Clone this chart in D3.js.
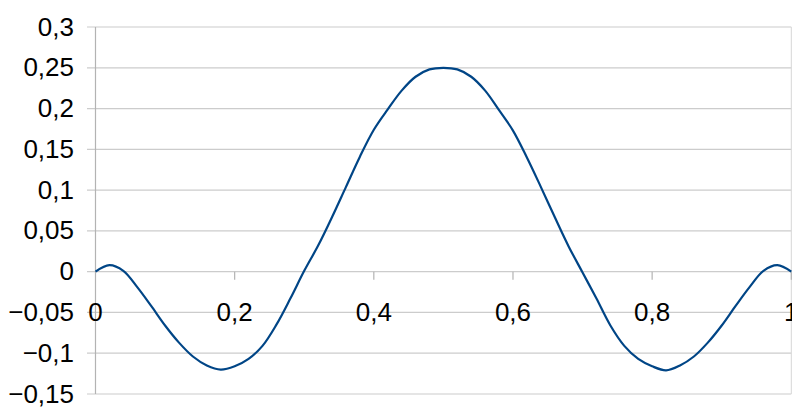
<!DOCTYPE html>
<html>
<head>
<meta charset="utf-8">
<script src="https://cdn.jsdelivr.net/npm/d3@7"></script>
<style>
  html, body { margin: 0; padding: 0; background: #fff; }
  svg { display: block; }
  text { font-family: "Liberation Sans", Arial, sans-serif; font-size: 26px; fill: #000; }
</style>
</head>
<body>
<svg id="chart" width="792" height="407"></svg>
<script>
const xValues = [0, 0.02, 0.04, 0.06, 0.08, 0.10, 0.12, 0.14, 0.16, 0.18, 0.20, 0.22, 0.24, 0.26, 0.28, 0.30, 0.32, 0.34, 0.36, 0.38, 0.40, 0.42, 0.44, 0.46, 0.48, 0.50,
                 0.52, 0.54, 0.56, 0.58, 0.60, 0.62, 0.64, 0.66, 0.68, 0.70, 0.72, 0.74, 0.76, 0.78, 0.80, 0.82, 0.84, 0.86, 0.88, 0.90, 0.92, 0.94, 0.96, 0.98, 1.00];
const yValues = [0, 0.008, 0.001, -0.019, -0.042, -0.066, -0.087, -0.104, -0.115, -0.120, -0.116, -0.107, -0.091, -0.065, -0.033, 0.001, 0.032, 0.067, 0.104, 0.141, 0.174, 0.199, 0.222, 0.239, 0.248, 0.250,
                 0.248, 0.239, 0.222, 0.198, 0.173, 0.140, 0.104, 0.067, 0.031, -0.001, -0.033, -0.066, -0.091, -0.107, -0.116, -0.121, -0.115, -0.104, -0.087, -0.066, -0.042, -0.019, 0.001, 0.008, 0];
const yTicks = [-0.15, -0.1, -0.05, 0, 0.05, 0.1, 0.15, 0.2, 0.25, 0.3];
const xTicks = [0, 0.2, 0.4, 0.6, 0.8, 1];

const svg = d3.select("#chart");
const x = d3.scaleLinear().domain([0, 1]).range([95.5, 791.3]);
const y = d3.scaleLinear().domain([-0.15, 0.3]).range([394, 27]);
const fmt = d => d3.format("")(+d.toFixed(2)).replace(".", ",");

// gridlines
svg.append("g").selectAll("line").data(yTicks).join("line")
  .attr("x1", 87).attr("x2", x(1))
  .attr("y1", d => y(d)).attr("y2", d => y(d))
  .attr("stroke", "#cccccc").attr("stroke-width", 1.2);

// right edge line
svg.append("line").attr("x1", x(1)).attr("x2", x(1))
  .attr("y1", y(0.3)).attr("y2", y(-0.15))
  .attr("stroke", "#d6d6d6").attr("stroke-width", 1);

// y axis line
svg.append("line").attr("x1", x(0)).attr("x2", x(0))
  .attr("y1", y(0.3)).attr("y2", y(-0.15))
  .attr("stroke", "#b3b3b3").attr("stroke-width", 1.2);

// x ticks
svg.append("g").selectAll("line").data(xTicks.slice(1)).join("line")
  .attr("x1", d => x(d)).attr("x2", d => x(d))
  .attr("y1", y(0)).attr("y2", y(0) + 8)
  .attr("stroke", "#b3b3b3").attr("stroke-width", 1.2);

// y labels
svg.append("g").selectAll("text").data(yTicks).join("text")
  .attr("x", 74).attr("y", d => y(d) + 8.5)
  .attr("text-anchor", "end")
  .text(fmt);

// x labels
svg.append("g").selectAll("text").data(xTicks).join("text")
  .attr("x", d => x(d)).attr("y", 320.5)
  .attr("text-anchor", "middle")
  .text(fmt);

// line
const pts = xValues.map((v, i) => [v, yValues[i]]);
svg.append("path").datum(pts)
  .attr("fill", "none").attr("stroke", "#004586").attr("stroke-width", 2.2)
  .attr("stroke-linejoin", "round")
  .attr("d", d3.line().x(d => x(d[0])).y(d => y(d[1])).curve(d3.curveCatmullRom));
</script>
</body>
</html>
